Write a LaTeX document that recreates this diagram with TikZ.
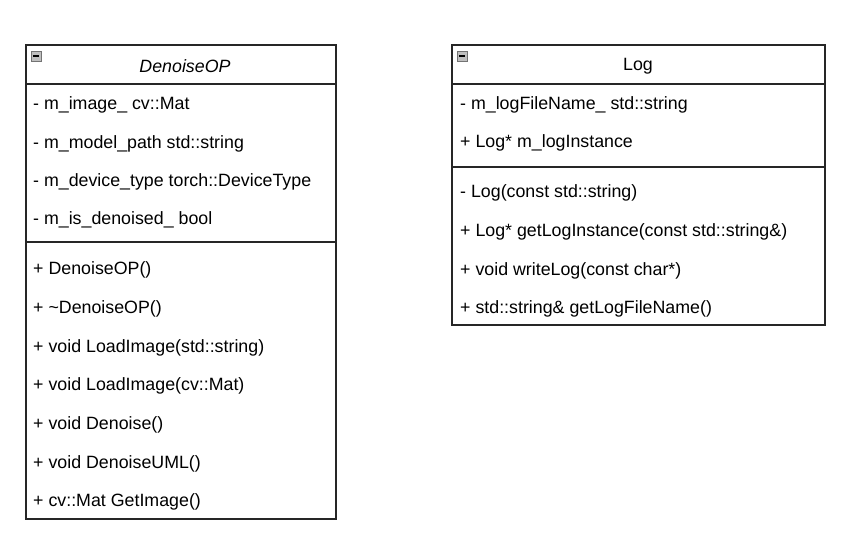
\documentclass[tikz,border=0pt]{standalone}
\usepackage{fontspec}
\setmainfont{Liberation Sans}
\usepackage{tikz}

\tikzset{
  member/.style={anchor=west, inner sep=0pt, font=\fontsize{17.8}{20}\selectfont},
  title/.style={inner sep=0pt, font=\fontsize{17.8}{20}\selectfont},
  umlbox/.style={draw=black!85, line width=1.3pt},
  foldicon/.style={draw=black!55, fill=black!25, line width=0.7pt}
}

\begin{document}
\begin{tikzpicture}[x=1pt, y=-1pt]
        \useasboundingbox[fill=white] (0, 0) rectangle (848, 536);

        % class DenoiseOP
        \draw[umlbox] (26, 45) rectangle (336, 519);
        \draw[umlbox] (26, 84) -- (336, 84);
        \draw[umlbox] (26, 242) -- (336, 242);
        \draw[foldicon] (31, 51) rectangle (41, 61);
        \draw[line width=1.4pt] (33, 56) -- (39, 56);
        \node[title] (denoiseName) at (185, 66.5) {\itshape DenoiseOP};

        \node[member] (dAttrA) at (33, 104.5) {- m\_image\_ cv::Mat};
        \node[member] (dAttrB) at (33, 143.5) {- m\_model\_path std::string};
        \node[member] (dAttrC) at (33, 181.5) {- m\_device\_type torch::DeviceType};
        \node[member] (dAttrD) at (33, 219.5) {- m\_is\_denoised\_ bool};

        \node[member] (dOpA) at (33, 269.5) {+ DenoiseOP()};
        \node[member] (dOpB) at (33, 308.5) {+ \textasciitilde DenoiseOP()};
        \node[member] (dOpC) at (33, 347.5) {+ void LoadImage(std::string)};
        \node[member] (dOpD) at (33, 385.5) {+ void LoadImage(cv::Mat)};
        \node[member] (dOpE) at (33, 424.5) {+ void Denoise()};
        \node[member] (dOpF) at (33, 463.5) {+ void DenoiseUML()};
        \node[member] (dOpG) at (33, 501.5) {+ cv::Mat GetImage()};

        % class Log
        \draw[umlbox] (452, 45) rectangle (825, 325);
        \draw[umlbox] (452, 84) -- (825, 84);
        \draw[umlbox] (452, 167) -- (825, 167);
        \draw[foldicon] (457, 51) rectangle (467, 61);
        \draw[line width=1.4pt] (459, 56) -- (465, 56);
        \node[title] (logName) at (638, 66.5) {Log};

        \node[member] (lAttrA) at (460, 104.5) {- m\_logFileName\_ std::string};
        \node[member] (lAttrB) at (460, 142.5) {+ Log* m\_logInstance};

        \node[member] (lOpA) at (460, 192.5) {- Log(const std::string)};
        \node[member] (lOpB) at (460, 231.5) {+ Log* getLogInstance(const std::string\&)};
        \node[member] (lOpC) at (460, 270.5) {+ void writeLog(const char*)};
        \node[member] (lOpD) at (460, 308.5) {+ std::string\& getLogFileName()};
    \end{tikzpicture}
\end{document}
